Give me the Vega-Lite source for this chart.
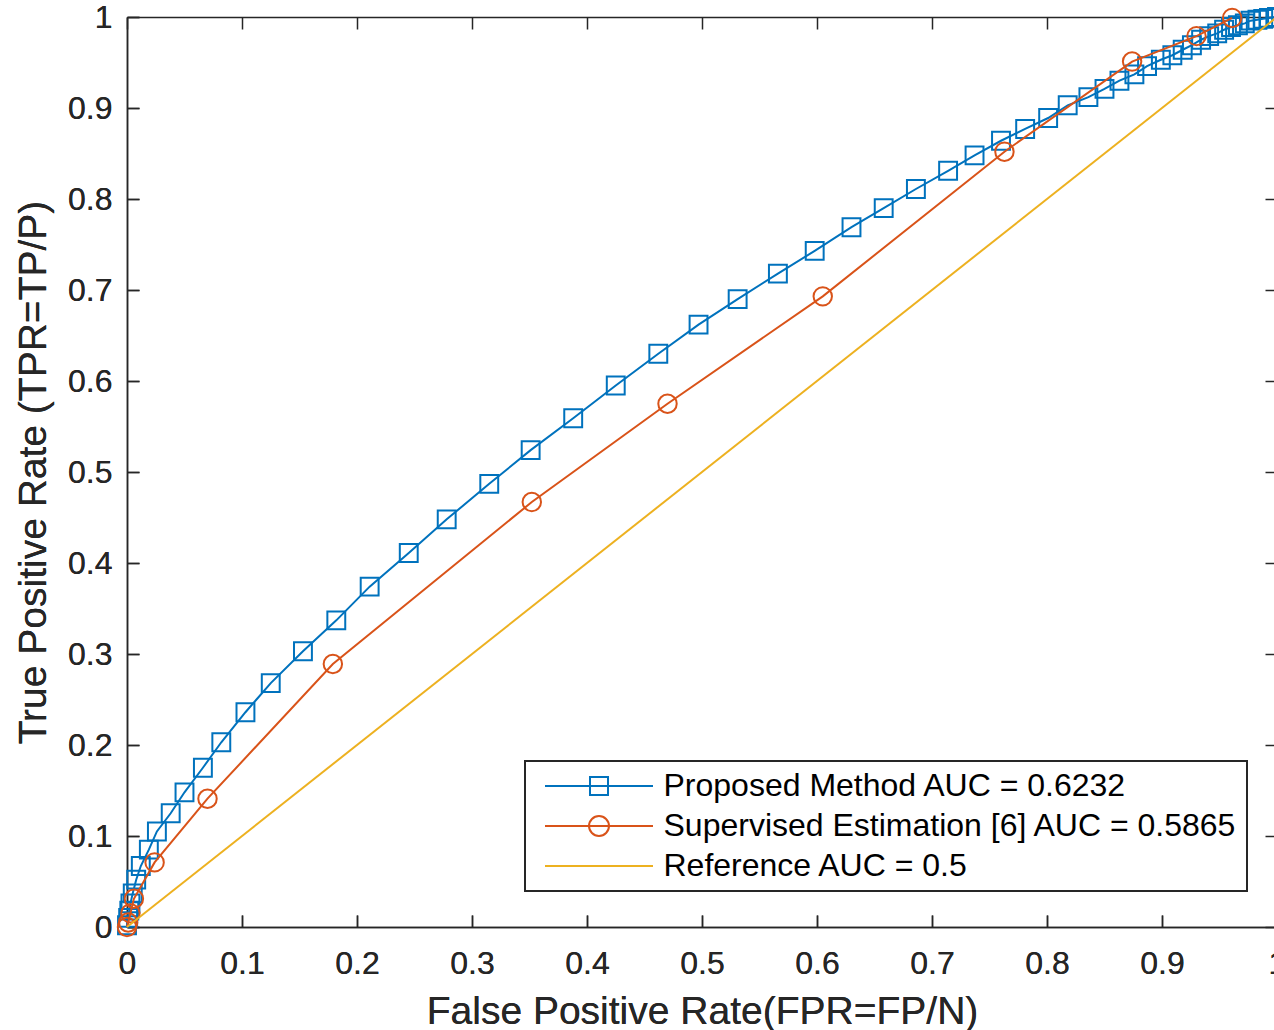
{
  "$schema": "https://vega.github.io/schema/vega-lite/v6.json",
  "width": 1150,
  "height": 910,
  "autosize": "none",
  "padding": {"left": 127, "top": 17, "right": 0, "bottom": 103},
  "background": "white",
  "config": {
    "font": "Liberation Sans",
    "view": {"stroke": null},
    "axis": {
      "domainColor": "#262626",
      "domainWidth": 1.5,
      "tickColor": "#262626",
      "tickWidth": 1.5,
      "tickSize": -12,
      "labelColor": "#262626",
      "titleColor": "#262626",
      "labelFont": "Liberation Sans",
      "titleFont": "Liberation Sans",
      "labelFontSize": 32,
      "titleFontSize": 39,
      "titleFontWeight": "normal",
      "labelFlush": false,
      "grid": false
    }
  },
  "datasets": {
    "roc": [
      {"series": "Proposed Method AUC = 0.6232", "fpr": 0.0, "tpr": 0.002},
      {"series": "Proposed Method AUC = 0.6232", "fpr": 0.001, "tpr": 0.010},
      {"series": "Proposed Method AUC = 0.6232", "fpr": 0.002, "tpr": 0.018},
      {"series": "Proposed Method AUC = 0.6232", "fpr": 0.003, "tpr": 0.026},
      {"series": "Proposed Method AUC = 0.6232", "fpr": 0.005, "tpr": 0.037},
      {"series": "Proposed Method AUC = 0.6232", "fpr": 0.008, "tpr": 0.052},
      {"series": "Proposed Method AUC = 0.6232", "fpr": 0.012, "tpr": 0.067},
      {"series": "Proposed Method AUC = 0.6232", "fpr": 0.019, "tpr": 0.085},
      {"series": "Proposed Method AUC = 0.6232", "fpr": 0.026, "tpr": 0.105},
      {"series": "Proposed Method AUC = 0.6232", "fpr": 0.038, "tpr": 0.125},
      {"series": "Proposed Method AUC = 0.6232", "fpr": 0.050, "tpr": 0.148},
      {"series": "Proposed Method AUC = 0.6232", "fpr": 0.066, "tpr": 0.175},
      {"series": "Proposed Method AUC = 0.6232", "fpr": 0.082, "tpr": 0.203},
      {"series": "Proposed Method AUC = 0.6232", "fpr": 0.103, "tpr": 0.236},
      {"series": "Proposed Method AUC = 0.6232", "fpr": 0.125, "tpr": 0.268},
      {"series": "Proposed Method AUC = 0.6232", "fpr": 0.153, "tpr": 0.303},
      {"series": "Proposed Method AUC = 0.6232", "fpr": 0.182, "tpr": 0.337},
      {"series": "Proposed Method AUC = 0.6232", "fpr": 0.211, "tpr": 0.374},
      {"series": "Proposed Method AUC = 0.6232", "fpr": 0.245, "tpr": 0.411},
      {"series": "Proposed Method AUC = 0.6232", "fpr": 0.278, "tpr": 0.448},
      {"series": "Proposed Method AUC = 0.6232", "fpr": 0.315, "tpr": 0.487},
      {"series": "Proposed Method AUC = 0.6232", "fpr": 0.351, "tpr": 0.524},
      {"series": "Proposed Method AUC = 0.6232", "fpr": 0.388, "tpr": 0.559},
      {"series": "Proposed Method AUC = 0.6232", "fpr": 0.425, "tpr": 0.595},
      {"series": "Proposed Method AUC = 0.6232", "fpr": 0.462, "tpr": 0.630},
      {"series": "Proposed Method AUC = 0.6232", "fpr": 0.497, "tpr": 0.662},
      {"series": "Proposed Method AUC = 0.6232", "fpr": 0.531, "tpr": 0.690},
      {"series": "Proposed Method AUC = 0.6232", "fpr": 0.566, "tpr": 0.718},
      {"series": "Proposed Method AUC = 0.6232", "fpr": 0.598, "tpr": 0.743},
      {"series": "Proposed Method AUC = 0.6232", "fpr": 0.630, "tpr": 0.769},
      {"series": "Proposed Method AUC = 0.6232", "fpr": 0.658, "tpr": 0.790},
      {"series": "Proposed Method AUC = 0.6232", "fpr": 0.686, "tpr": 0.811},
      {"series": "Proposed Method AUC = 0.6232", "fpr": 0.714, "tpr": 0.831},
      {"series": "Proposed Method AUC = 0.6232", "fpr": 0.737, "tpr": 0.848},
      {"series": "Proposed Method AUC = 0.6232", "fpr": 0.760, "tpr": 0.864},
      {"series": "Proposed Method AUC = 0.6232", "fpr": 0.781, "tpr": 0.877},
      {"series": "Proposed Method AUC = 0.6232", "fpr": 0.801, "tpr": 0.889},
      {"series": "Proposed Method AUC = 0.6232", "fpr": 0.818, "tpr": 0.903},
      {"series": "Proposed Method AUC = 0.6232", "fpr": 0.836, "tpr": 0.912},
      {"series": "Proposed Method AUC = 0.6232", "fpr": 0.850, "tpr": 0.921},
      {"series": "Proposed Method AUC = 0.6232", "fpr": 0.863, "tpr": 0.930},
      {"series": "Proposed Method AUC = 0.6232", "fpr": 0.876, "tpr": 0.937},
      {"series": "Proposed Method AUC = 0.6232", "fpr": 0.887, "tpr": 0.946},
      {"series": "Proposed Method AUC = 0.6232", "fpr": 0.899, "tpr": 0.953},
      {"series": "Proposed Method AUC = 0.6232", "fpr": 0.909, "tpr": 0.958},
      {"series": "Proposed Method AUC = 0.6232", "fpr": 0.918, "tpr": 0.964},
      {"series": "Proposed Method AUC = 0.6232", "fpr": 0.926, "tpr": 0.969},
      {"series": "Proposed Method AUC = 0.6232", "fpr": 0.934, "tpr": 0.975},
      {"series": "Proposed Method AUC = 0.6232", "fpr": 0.941, "tpr": 0.979},
      {"series": "Proposed Method AUC = 0.6232", "fpr": 0.948, "tpr": 0.982},
      {"series": "Proposed Method AUC = 0.6232", "fpr": 0.954, "tpr": 0.986},
      {"series": "Proposed Method AUC = 0.6232", "fpr": 0.960, "tpr": 0.989},
      {"series": "Proposed Method AUC = 0.6232", "fpr": 0.966, "tpr": 0.991},
      {"series": "Proposed Method AUC = 0.6232", "fpr": 0.972, "tpr": 0.993},
      {"series": "Proposed Method AUC = 0.6232", "fpr": 0.977, "tpr": 0.996},
      {"series": "Proposed Method AUC = 0.6232", "fpr": 0.983, "tpr": 0.997},
      {"series": "Proposed Method AUC = 0.6232", "fpr": 0.988, "tpr": 0.998},
      {"series": "Proposed Method AUC = 0.6232", "fpr": 0.993, "tpr": 0.999},
      {"series": "Proposed Method AUC = 0.6232", "fpr": 1.0, "tpr": 1.0},
      {"series": "Supervised Estimation [6] AUC = 0.5865", "fpr": 0.0, "tpr": 0.0},
      {"series": "Supervised Estimation [6] AUC = 0.5865", "fpr": 0.001, "tpr": 0.005},
      {"series": "Supervised Estimation [6] AUC = 0.5865", "fpr": 0.003, "tpr": 0.015},
      {"series": "Supervised Estimation [6] AUC = 0.5865", "fpr": 0.006, "tpr": 0.031},
      {"series": "Supervised Estimation [6] AUC = 0.5865", "fpr": 0.024, "tpr": 0.071},
      {"series": "Supervised Estimation [6] AUC = 0.5865", "fpr": 0.070, "tpr": 0.141},
      {"series": "Supervised Estimation [6] AUC = 0.5865", "fpr": 0.179, "tpr": 0.289},
      {"series": "Supervised Estimation [6] AUC = 0.5865", "fpr": 0.352, "tpr": 0.467},
      {"series": "Supervised Estimation [6] AUC = 0.5865", "fpr": 0.470, "tpr": 0.575},
      {"series": "Supervised Estimation [6] AUC = 0.5865", "fpr": 0.605, "tpr": 0.693},
      {"series": "Supervised Estimation [6] AUC = 0.5865", "fpr": 0.763, "tpr": 0.852},
      {"series": "Supervised Estimation [6] AUC = 0.5865", "fpr": 0.874, "tpr": 0.951},
      {"series": "Supervised Estimation [6] AUC = 0.5865", "fpr": 0.930, "tpr": 0.979},
      {"series": "Supervised Estimation [6] AUC = 0.5865", "fpr": 0.961, "tpr": 0.999},
      {"series": "Reference AUC = 0.5", "fpr": 0.0, "tpr": 0.0},
      {"series": "Reference AUC = 0.5", "fpr": 1.0, "tpr": 1.0}
    ]
  },
  "data": {"name": "roc"},
  "encoding": {
    "x": {
      "field": "fpr", "type": "quantitative",
      "scale": {"domain": [0, 1], "nice": false, "zero": false},
      "axis": {"orient": "bottom", "values": [0,0.1,0.2,0.3,0.4,0.5,0.6,0.7,0.8,0.9,1], "format": "~g", "title": "False Positive Rate(FPR=FP/N)", "labelPadding": 33, "titlePadding": 13}
    },
    "y": {
      "field": "tpr", "type": "quantitative",
      "scale": {"domain": [0, 1], "nice": false, "zero": false},
      "axis": {"orient": "left", "values": [0,0.1,0.2,0.3,0.4,0.5,0.6,0.7,0.8,0.9,1], "format": "~g", "title": "True Positive Rate (TPR=TP/P)", "labelPadding": 27, "titlePadding": 14}
    },
    "color": {
      "field": "series", "type": "nominal",
      "scale": {
        "domain": ["Proposed Method AUC = 0.6232", "Supervised Estimation [6] AUC = 0.5865", "Reference AUC = 0.5"],
        "range": ["#0072BD", "#D95319", "#EDB120"]
      },
      "legend": {
        "orient": "none",
        "legendX": 398,
        "legendY": 744,
        "title": null,
        "fillColor": "white",
        "strokeColor": "#262626",
        "padding": 9,
        "symbolSize": 729,
        "symbolOffset": 49,
        "symbolStrokeWidth": 2,
        "symbolFillColor": "transparent",
        "labelOffset": 48.5,
        "labelFontSize": 32,
        "labelFont": "Liberation Sans",
        "labelColor": "black",
        "labelLimit": 1000,
        "rowPadding": 8,
        "encoding": {
          "symbols": {
            "shape": {
              "condition": [
                {"test": "datum.value === 'Proposed Method AUC = 0.6232'", "value": "M-4,0H4M-0.667,-0.667H0.667V0.667H-0.667Z"},
                {"test": "datum.value === 'Supervised Estimation [6] AUC = 0.5865'", "value": "M-4,0H4M0.74,0A0.74,0.74,0,1,1,-0.74,0A0.74,0.74,0,1,1,0.74,0Z"}
              ],
              "value": "M-4,0H4"
            },
            "fill": {"value": "transparent"},
            "strokeWidth": {"value": 2}
          },
          "legend": {"strokeWidth": {"value": 2}}
        }
      }
    }
  },
  "layer": [
    {
      "transform": [{"filter": "datum.series === 'Proposed Method AUC = 0.6232'"}],
      "mark": {"type": "line", "strokeWidth": 2, "point": {"shape": "square", "filled": false, "size": 320, "strokeWidth": 2}},
      "encoding": {
        "x": {"field": "fpr", "type": "quantitative", "axis": {"orient": "top", "values": [0,0.1,0.2,0.3,0.4,0.5,0.6,0.7,0.8,0.9,1], "labels": false, "title": null}},
        "y": {"field": "tpr", "type": "quantitative", "axis": {"orient": "right", "values": [0,0.1,0.2,0.3,0.4,0.5,0.6,0.7,0.8,0.9,1], "labels": false, "title": null}}
      }
    },
    {
      "transform": [{"filter": "datum.series === 'Supervised Estimation [6] AUC = 0.5865'"}],
      "mark": {"type": "line", "strokeWidth": 2, "point": {"shape": "circle", "filled": false, "size": 340, "strokeWidth": 2}}
    },
    {
      "transform": [{"filter": "datum.series === 'Reference AUC = 0.5'"}],
      "mark": {"type": "line", "strokeWidth": 2}
    }
  ]
}
